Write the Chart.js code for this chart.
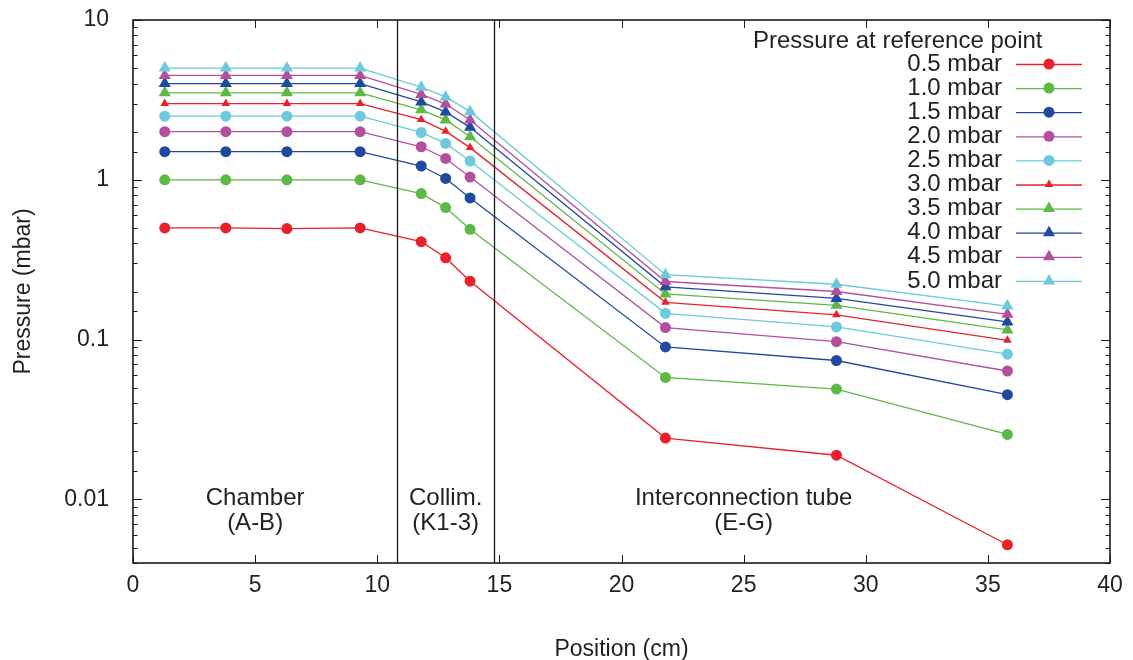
<!DOCTYPE html>
<html>
<head>
<meta charset="utf-8">
<script src="https://cdn.jsdelivr.net/npm/chart.js@4.4.1/dist/chart.umd.min.js"></script>
<style>
  html, body { margin: 0; padding: 0; background: #fff; }
  #wrap { width: 1133px; height: 660px; }
</style>
</head>
<body>
<div id="wrap"><canvas id="pressureChart"></canvas></div>
<script>
// positions along the beamline (cm)
const positions = [1.3, 3.8, 6.3, 9.3, 11.8, 12.8, 13.8, 21.8, 28.8, 35.8];

// measured pressure (mbar) for each reference-point pressure
const p05 = [0.5, 0.5, 0.495, 0.5, 0.41, 0.325, 0.232, 0.0242, 0.0189, 0.0052];
const p10 = [1.0, 1.0, 1.0, 1.0, 0.82, 0.67, 0.49, 0.058, 0.049, 0.0255];
const p15 = [1.5, 1.5, 1.5, 1.5, 1.22, 1.02, 0.77, 0.090, 0.074, 0.0452];
const p20 = [2.0, 2.0, 2.0, 2.0, 1.61, 1.36, 1.04, 0.119, 0.097, 0.0636];
const p25 = [2.5, 2.5, 2.5, 2.5, 1.98, 1.69, 1.31, 0.146, 0.120, 0.081];
const p30 = [3.0, 3.0, 3.0, 3.0, 2.38, 2.01, 1.59, 0.171, 0.143, 0.099];
const p35 = [3.5, 3.5, 3.5, 3.5, 2.74, 2.37, 1.86, 0.193, 0.164, 0.115];
const p40 = [4.0, 4.0, 4.0, 4.0, 3.07, 2.66, 2.13, 0.214, 0.181, 0.129];
const p45 = [4.5, 4.5, 4.5, 4.5, 3.42, 2.98, 2.37, 0.231, 0.200, 0.144];
const p50 = [5.0, 5.0, 5.0, 5.0, 3.80, 3.30, 2.67, 0.255, 0.222, 0.162];

const seriesLabels = ['0.5 mbar', '1.0 mbar', '1.5 mbar', '2.0 mbar', '2.5 mbar',
                      '3.0 mbar', '3.5 mbar', '4.0 mbar', '4.5 mbar', '5.0 mbar'];
const seriesValues = [p05, p10, p15, p20, p25, p30, p35, p40, p45, p50];

// section boundaries (cm) and section names
const boundaries = [10.8, 14.8];
const sectionNames = [['Chamber', '(A-B)'], ['Collim.', '(K1-3)'], ['Interconnection tube', '(E-G)']];
const sectionCentres = [5, 12.8, 25];

const xTicks = [0, 5, 10, 15, 20, 25, 30, 35, 40];

const RED = '#e8212b', GREEN = '#5cb946', BLUE = '#1f4a9f', MAGENTA = '#b2509f', CYAN = '#6ccadc';
const colours = [RED, GREEN, BLUE, MAGENTA, CYAN, RED, GREEN, BLUE, MAGENTA, CYAN];
const TEXT = '#231f20';
const FONT = '"Liberation Sans", Arial, Helvetica, sans-serif';

function markerStyle(i) {
    if (i < 5) return { style: 'circle', radius: 5.5 };
    if (i === 5) return { style: 'triangle', radius: 5 };
    return { style: 'triangle', radius: 7 };
}

const datasets = seriesValues.map(function(vals, i) {
    const m = markerStyle(i);
    return {
        label: seriesLabels[i],
        data: vals.map(function(v, j) { return { x: positions[j], y: v }; }),
        borderColor: colours[i],
        backgroundColor: colours[i],
        borderWidth: 1.3,
        pointStyle: m.style,
        pointRadius: m.radius,
        pointBorderWidth: 0,
        tension: 0,
        order: 10 - i
    };
});

function isDecade(v) {
    const l = Math.log10(v);
    return Math.abs(l - Math.round(l)) < 1e-6;
}

// gnuplot-like frame: box, inward ticks on all sides, section lines, labels, key
const framePlugin = {
    id: 'frame',
    afterDatasetsDraw(chart) {
        const ctx = chart.ctx;
        const area = chart.chartArea;
        const xs = chart.scales.x, ys = chart.scales.y;
        ctx.save();
        ctx.strokeStyle = '#1a1a1a';
        ctx.lineWidth = 1.3;

        // section boundaries
        boundaries.forEach(function(b) {
            const px = Math.round(xs.getPixelForValue(b)) + 0.5;
            ctx.beginPath();
            ctx.moveTo(px, area.top);
            ctx.lineTo(px, area.bottom);
            ctx.stroke();
        });

        ctx.lineWidth = 1;
        // x ticks, bottom and top
        xs.ticks.forEach(function(t) {
            const px = Math.round(xs.getPixelForValue(t.value)) + 0.5;
            ctx.beginPath();
            ctx.moveTo(px, area.bottom); ctx.lineTo(px, area.bottom - 8);
            ctx.moveTo(px, area.top); ctx.lineTo(px, area.top + 8);
            ctx.stroke();
        });
        // y ticks, left and right; decades long, the rest short
        ys.ticks.forEach(function(t) {
            const py = Math.round(ys.getPixelForValue(t.value)) + 0.5;
            const len = isDecade(t.value) ? 9 : 4.5;
            ctx.beginPath();
            ctx.moveTo(area.left, py); ctx.lineTo(area.left + len, py);
            ctx.moveTo(area.right, py); ctx.lineTo(area.right - len, py);
            ctx.stroke();
        });

        // frame
        ctx.lineWidth = 1.6;
        ctx.strokeRect(area.left, area.top, area.right - area.left, area.bottom - area.top);

        // section names
        ctx.fillStyle = TEXT;
        ctx.font = '24px ' + FONT;
        ctx.textAlign = 'center';
        ctx.textBaseline = 'middle';
        sectionNames.forEach(function(lines, i) {
            const cx = xs.getPixelForValue(sectionCentres[i]);
            ctx.fillText(lines[0], cx, 498);
            ctx.fillText(lines[1], cx, 523);
        });

        // key
        ctx.textAlign = 'left';
        ctx.fillText('Pressure at reference point', 753, 41);
        chart.data.datasets.forEach(function(ds, i) {
            const y = 64 + i * 24.1;
            ctx.fillStyle = TEXT;
            ctx.textAlign = 'right';
            ctx.fillText(ds.label, 1002, y);
            ctx.strokeStyle = ds.borderColor;
            ctx.lineWidth = 1.3;
            ctx.beginPath();
            ctx.moveTo(1016, y + 0.5);
            ctx.lineTo(1082, y + 0.5);
            ctx.stroke();
            ctx.fillStyle = ds.backgroundColor;
            Chart.helpers.drawPoint(ctx, { pointStyle: ds.pointStyle, radius: ds.pointRadius, rotation: 0, borderWidth: 0 }, 1049, y);
        });
        ctx.restore();
    }
};

const ctx = document.getElementById('pressureChart').getContext('2d');
const chart = new Chart(ctx, {
    type: 'line',
    data: { datasets: datasets },
    options: {
        responsive: true,
        maintainAspectRatio: false,
        animation: false,
        layout: { padding: { left: 0, top: 20, right: 23, bottom: 0 } },
        plugins: {
            legend: { display: false },
            tooltip: { enabled: false }
        },
        scales: {
            x: {
                type: 'linear',
                min: 0,
                max: 40,
                grid: { display: false },
                border: { display: false },
                afterBuildTicks: function(scale) {
                    scale.ticks = xTicks.map(function(v) { return { value: v }; });
                },
                afterFit: function(scale) {
                    scale.height = 97;
                    scale.paddingLeft = 0;
                    scale.paddingRight = 0;
                },
                ticks: {
                    color: TEXT,
                    padding: 1,
                    font: { family: FONT, size: 23 }
                },
                title: {
                    display: true,
                    text: 'Position (cm)',
                    color: TEXT,
                    font: { family: FONT, size: 23 },
                    padding: { top: 0, bottom: -3 }
                }
            },
            y: {
                type: 'logarithmic',
                min: 0.004,
                max: 10,
                grid: { display: false },
                border: { display: false },
                afterFit: function(scale) {
                    scale.width = 133;
                    scale.paddingTop = 0;
                    scale.paddingBottom = 0;
                },
                ticks: {
                    color: TEXT,
                    padding: 16,
                    autoSkip: false,
                    font: { family: FONT, size: 23 },
                    callback: function(value) {
                        return isDecade(value) ? String(Number(value.toPrecision(3))) : '';
                    }
                },
                title: {
                    display: true,
                    text: 'Pressure (mbar)',
                    color: TEXT,
                    font: { family: FONT, size: 23 },
                    padding: { top: 10, bottom: 0 }
                }
            }
        }
    },
    plugins: [framePlugin]
});
</script>
</body>
</html>
